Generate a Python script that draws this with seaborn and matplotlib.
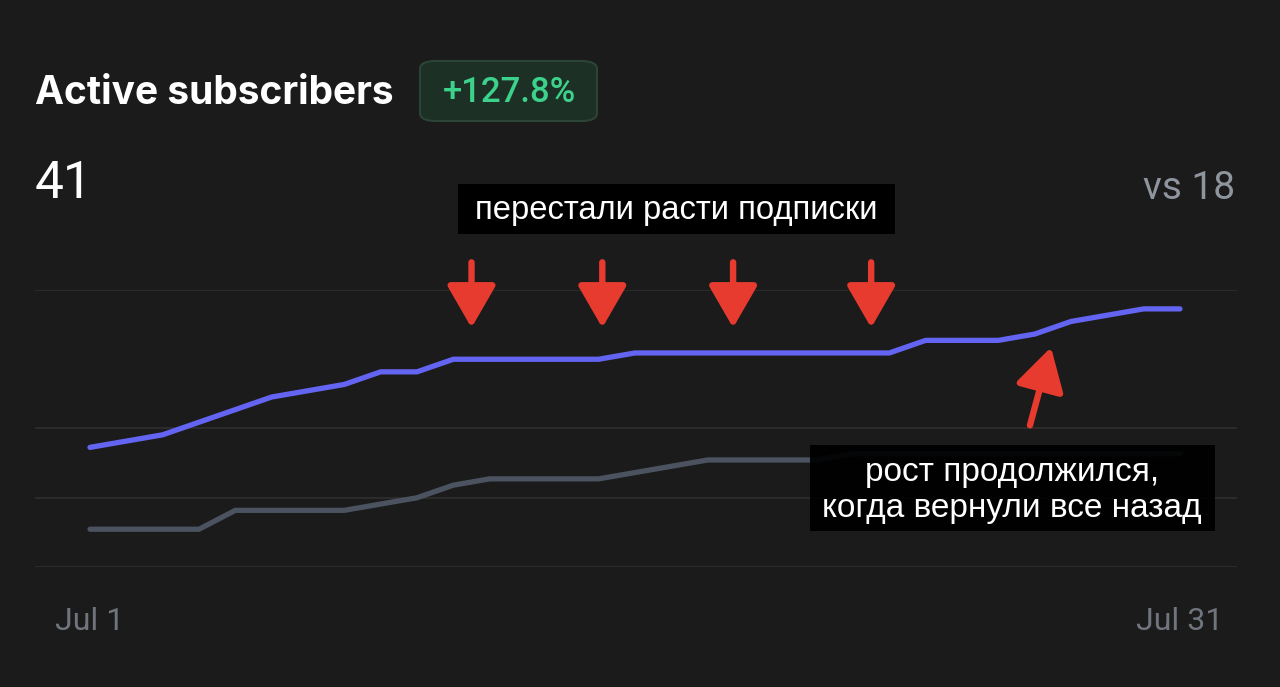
import matplotlib
matplotlib.use("Agg")
import matplotlib.pyplot as plt
import seaborn as sns
import pandas as pd
from matplotlib.patches import Rectangle, FancyBboxPatch

# data
days = list(range(1, 32))
current = [19, 20, 21, 23, 25, 27, 28, 29, 31, 31, 33, 33, 33, 33, 33, 34,
           34, 34, 34, 34, 34, 34, 34, 36, 36, 36, 37, 39, 40, 41, 41]
previous = [6, 6, 6, 6, 9, 9, 9, 9, 10, 11, 13, 14, 14, 14, 14, 15,
            16, 17, 17, 17, 17, 18, 18, 18, 18, 18, 18, 18, 18, 18, 18]
grid_values = [0, 11, 22, 44]
tick_days = [1, 31]
tick_labels = ["Jul 1", "Jul 31"]
stall_days = [11.5, 15.1, 18.7, 22.5]

BG = "#1b1b1b"
PURPLE = "#6464f2"
GREY_LINE = "#4b5360"
RED = "#e63b2e"

W, H = 1280, 687


def fx(x):
    return x / W


def fy(y):
    return 1 - y / H


df = pd.concat([
    pd.DataFrame({"day": days, "value": previous, "period": "previous"}),
    pd.DataFrame({"day": days, "value": current, "period": "current"}),
], ignore_index=True)

sns.set_theme(style="dark")
plt.rcParams["font.family"] = ["Roboto", "DejaVu Sans"]

fig = plt.figure(figsize=(12.8, 6.87), dpi=100, facecolor=BG)
ax = fig.add_axes([fx(35), fy(567), fx(1237) - fx(35), fy(290) - fy(567)])
ax.set_facecolor(BG)

sns.lineplot(data=df, x="day", y="value", hue="period",
             palette={"current": PURPLE, "previous": GREY_LINE},
             hue_order=["previous", "current"], linewidth=3.8,
             legend=False, ax=ax, solid_capstyle="round", solid_joinstyle="round")

ax.set_xlim(1 - 55 / 36.33, 31 + 57 / 36.33)
ax.set_ylim(0, 44)
ax.set_yticks(grid_values)
ax.grid(axis="y", color="#2b2b2b", linewidth=1.5)
ax.grid(axis="x", visible=False)
ax.set_xticks(tick_days, tick_labels)
ax.tick_params(axis="x", length=0, pad=29, labelsize=23, labelcolor="#70757d")
ax.tick_params(axis="y", length=0, labelleft=False)
ax.set_xlabel("")
ax.set_ylabel("")
for s in ax.spines.values():
    s.set_visible(False)
for line in ax.lines:
    line.set_clip_on(False)

# red arrows
arrow_style = "-|>,head_length=2.6,head_width=1.5"
for d in stall_days:
    ax.annotate("", xy=(d, 38.0), xytext=(d, 48.4), annotation_clip=False,
                arrowprops=dict(arrowstyle=arrow_style,
                                mutation_scale=10, lw=4.6, color=RED,
                                shrinkA=0, shrinkB=0))
ax.annotate("", xy=(27.45, 34.9), xytext=(26.87, 22.5), annotation_clip=False,
            arrowprops=dict(arrowstyle=arrow_style,
                            mutation_scale=10, lw=4.6, color=RED,
                            shrinkA=0, shrinkB=0, capstyle="round"))

# header
fig.text(fx(35), fy(94), "Active subscribers", color="white", fontsize=28,
         fontweight="bold", va="center", ha="left", family=["Inter", "Roboto", "DejaVu Sans"])
fig.patches.append(FancyBboxPatch((fx(420), fy(121)), fx(597) - fx(420), fy(61) - fy(121),
                                  boxstyle="round,pad=0,rounding_size=0.012",
                                  transform=fig.transFigure, facecolor="#1d3026",
                                  edgecolor="#2c4437", linewidth=1.5, zorder=2))
fig.text(fx(510), fy(93), "+127.8%", color="#3dd28c", fontsize=25,
         fontweight="medium", va="center", ha="center", zorder=3)
fig.text(fx(35), fy(184), "41", color="white", fontsize=37, fontweight="normal",
         va="center", ha="left")
fig.text(fx(1235), fy(188), "vs 18", color="#8f959e", fontsize=28,
         va="center", ha="right")

# black annotation boxes
fig.patches.append(Rectangle((fx(458), fy(234)), fx(895) - fx(458), fy(184) - fy(234),
                             transform=fig.transFigure, facecolor="black",
                             edgecolor="none", zorder=5))
fig.text(fx(676), fy(210), "перестали расти подписки", color="white", fontsize=23.6,
         family=["Liberation Sans", "DejaVu Sans"], va="center", ha="center", zorder=6)

fig.patches.append(Rectangle((fx(810), fy(531)), fx(1215) - fx(810), fy(445) - fy(531),
                             transform=fig.transFigure, facecolor="black", alpha=0.93,
                             edgecolor="none", zorder=5))
fig.text(fx(1012), fy(472), "рост продолжился,", color="white", fontsize=24,
         family=["Liberation Sans", "DejaVu Sans"], va="center", ha="center", zorder=6)
fig.text(fx(1012), fy(508), "когда вернули все назад", color="white", fontsize=24,
         family=["Liberation Sans", "DejaVu Sans"], va="center", ha="center", zorder=6)

fig.savefig("out.png", dpi=100, facecolor=BG)
